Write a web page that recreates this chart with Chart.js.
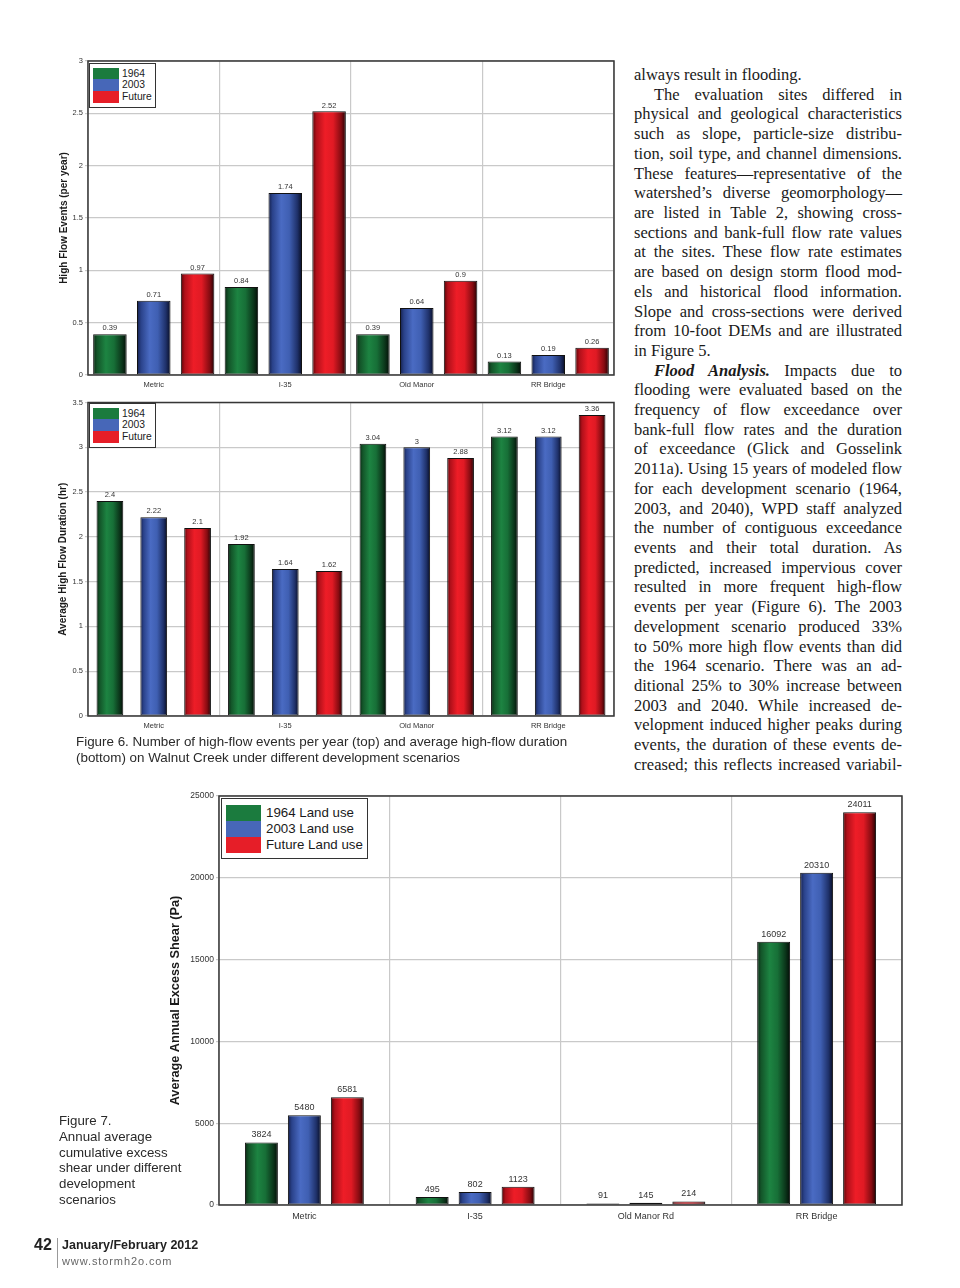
<!DOCTYPE html>
<html><head><meta charset="utf-8">
<script src="https://cdn.jsdelivr.net/npm/chart.js@4.4.0/dist/chart.umd.min.js"></script>
<style>
html,body{margin:0;padding:0;background:#fff;}
body{width:960px;height:1288px;position:relative;overflow:hidden;font-family:"Liberation Sans",Arial,sans-serif;color:#222;}
canvas{position:absolute;}
.lg{position:absolute;background:#fff;border:1.5px solid #333;box-sizing:border-box;}
.lg .it{position:absolute;white-space:nowrap;}
.lg .sw{position:absolute;}
.col{position:absolute;left:634px;width:268px;font-family:"Liberation Serif","Times New Roman",serif;font-size:16.5px;color:#1a1a1a;}
.col div{position:absolute;left:0;width:268px;height:19.7px;line-height:19.7px;text-align:justify;text-align-last:justify;}
.col div.e{text-align-last:left;}
.col div.i{left:20px;width:248px;}
.cap{position:absolute;font-size:13.4px;color:#2a2a2a;white-space:nowrap;line-height:16px;}
</style></head>
<body>
<canvas id="c1" width="590" height="345" style="left:40px;top:50px"></canvas>
<canvas id="c2" width="590" height="340" style="left:40px;top:396px"></canvas>
<canvas id="c3" width="760" height="440" style="left:150px;top:785px"></canvas>

<div class="cap" style="left:76px;top:734px;">Figure 6. Number of high-flow events per year (top) and average high-flow duration<br>(bottom) on Walnut Creek under different development scenarios</div>

<div class="cap" style="left:59px;top:1113px;font-size:13.3px;line-height:15.8px;">Figure 7.<br>Annual average<br>cumulative excess<br>shear under different<br>development<br>scenarios</div>

<div style="position:absolute;left:34px;top:1236px;font-size:16px;font-weight:bold;color:#222;">42</div>
<div style="position:absolute;left:57px;top:1238px;width:1px;height:30px;background:#999;"></div>
<div style="position:absolute;left:62px;top:1238px;font-size:12.5px;font-weight:bold;color:#222;white-space:nowrap;">January/February 2012</div>
<div style="position:absolute;left:62px;top:1255px;font-size:11px;letter-spacing:0.9px;color:#666;white-space:nowrap;">www.stormh2o.com</div>

<div class="col" id="col"></div>

<script>
// ---------- data ----------
const fig6Sites = ["Metric", "I-35", "Old Manor", "RR Bridge"];
const fig7Sites = ["Metric", "I-35", "Old Manor Rd", "RR Bridge"];
const fig6Series = ["1964", "2003", "Future"];
const fig7Series = ["1964 Land use", "2003 Land use", "Future Land use"];

const events1964   = [0.39, 0.84, 0.39, 0.13];
const events2003   = [0.71, 1.74, 0.64, 0.19];
const eventsFuture = [0.97, 2.52, 0.9, 0.26];

const duration1964   = [2.4, 1.92, 3.04, 3.12];
const duration2003   = [2.22, 1.64, 3, 3.12];
const durationFuture = [2.1, 1.62, 2.88, 3.36];

const shear1964   = [3824, 495, 91, 16092];
const shear2003   = [5480, 802, 145, 20310];
const shearFuture = [6581, 1123, 214, 24011];

const eventsTicks   = [0, 0.5, 1, 1.5, 2, 2.5, 3];
const durationTicks = [0, 0.5, 1, 1.5, 2, 2.5, 3, 3.5];
const shearTicks    = [0, 5000, 10000, 15000, 20000, 25000];

// ---------- styles ----------
const flatColors = ["#1b7b3e", "#4767b8", "#e61e28"];
const gradStops = [
  [[0,"#0a2813"],[0.12,"#135529"],[0.38,"#1d8442"],[0.62,"#176f37"],[0.86,"#0b351a"],[1,"#030c06"]],
  [[0,"#141f4a"],[0.12,"#2a428a"],[0.38,"#4a6bc3"],[0.62,"#3f5fb2"],[0.86,"#1f316a"],[1,"#080d24"]],
  [[0,"#560508"],[0.12,"#b0101a"],[0.38,"#ee1d27"],[0.62,"#e01a24"],[0.86,"#850b11"],[1,"#220103"]]
];

const barStyler = {
  id: "barStyler",
  beforeDatasetsDraw(chart) {
    const ctx = chart.ctx;
    chart.data.datasets.forEach((ds, i) => {
      const meta = chart.getDatasetMeta(i);
      meta.data.forEach(el => {
        const g = ctx.createLinearGradient(el.x - el.width / 2, 0, el.x + el.width / 2, 0);
        gradStops[i].forEach(s => g.addColorStop(s[0], s[1]));
        el.options.backgroundColor = g;
      });
    });
  }
};
const frame = {
  id: "frame",
  afterDatasetsDraw(chart) {
    const {left, top, right, bottom} = chart.chartArea;
    const ctx = chart.ctx;
    ctx.save();
    ctx.strokeStyle = "#363636";
    ctx.lineWidth = 1.5;
    ctx.strokeRect(left, top, right - left, bottom - top);
    ctx.restore();
  }
};
const valueLabels = {
  id: "valueLabels",
  afterDatasetsDraw(chart, args, opts) {
    const ctx = chart.ctx;
    ctx.save();
    ctx.font = opts.size + "px 'Liberation Sans', Arial, sans-serif";
    ctx.fillStyle = "#333";
    ctx.textAlign = "center";
    ctx.textBaseline = "bottom";
    chart.data.datasets.forEach((ds, i) => {
      const meta = chart.getDatasetMeta(i);
      meta.data.forEach((el, j) => {
        ctx.fillText(String(ds.data[j]), el.x, el.y - opts.gap);
      });
    });
    ctx.restore();
  }
};

function makeChart(id, o) {
  const datasets = o.series.map((arr, i) => ({
    label: o.names[i],
    data: arr,
    backgroundColor: () => flatColors[i],
    borderColor: "#111",
    borderWidth: 1,
    borderSkipped: false,
    barPercentage: o.barPct,
    categoryPercentage: o.catPct
  }));
  new Chart(document.getElementById(id), {
    type: "bar",
    data: { labels: o.cats, datasets },
    options: {
      responsive: false,
      animation: false,
      events: [],
      layout: { padding: o.pad },
      plugins: {
        legend: { display: false },
        tooltip: { enabled: false },
        valueLabels: { size: o.valSize, gap: o.valGap }
      },
      scales: {
        x: {
          offset: true,
          grid: { offset: true, color: "#c9c9c9", lineWidth: 1.2, drawTicks: false },
          border: { display: false },
          ticks: { color: "#333", font: { size: o.xSize, family: "'Liberation Sans', Arial" }, padding: o.xPad, maxRotation: 0 },
          afterFit(s) { s.height = o.xH; }
        },
        y: {
          min: 0, max: o.ticks[o.ticks.length - 1],
          afterBuildTicks(s) { s.ticks = o.ticks.map(v => ({ value: v })); },
          grid: { color: "#c9c9c9", lineWidth: 1.2, tickLength: 3 },
          border: { display: false },
          ticks: { color: "#333", font: { size: o.ySize, family: "'Liberation Sans', Arial" }, padding: 2,
                   callback: v => String(v) },
          title: { display: true, text: o.title, color: "#1a1a1a",
                   font: { size: o.titleSize, weight: "bold", family: "'Liberation Sans', Arial" },
                   padding: { top: o.titlePad, bottom: 0 } },
          afterFit(s) { s.width = o.yW; }
        }
      }
    },
    plugins: [barStyler, frame, valueLabels]
  });
}

makeChart("c1", {
  cats: fig6Sites, names: fig6Series, series: [events1964, events2003, eventsFuture],
  ticks: eventsTicks, barPct: 0.765, catPct: 1.0,
  pad: { top: 11, right: 16, bottom: 0, left: 0 }, yW: 48, xH: 20,
  xSize: 7.5, xPad: 5, ySize: 7.5, valSize: 7.5, valGap: 2,
  title: "High Flow Events (per year)", titleSize: 10, titlePad: 18
});
makeChart("c2", {
  cats: fig6Sites, names: fig6Series, series: [duration1964, duration2003, durationFuture],
  ticks: durationTicks, barPct: 0.61, catPct: 1.0,
  pad: { top: 5, right: 16, bottom: 0, left: 0 }, yW: 48, xH: 20,
  xSize: 7.5, xPad: 5, ySize: 7.5, valSize: 7.5, valGap: 2,
  title: "Average High Flow Duration (hr)", titleSize: 10, titlePad: 17
});
makeChart("c3", {
  cats: fig7Sites, names: fig7Series, series: [shear1964, shear2003, shearFuture],
  ticks: shearTicks, barPct: 0.767, catPct: 0.755,
  pad: { top: 11, right: 8, bottom: 0, left: 0 }, yW: 69, xH: 20,
  xSize: 9, xPad: 6, ySize: 8.5, valSize: 9, valGap: 3,
  title: "Average Annual Excess Shear (Pa)", titleSize: 12.7, titlePad: 17.5
});

// ---------- legends ----------
function legend(names, box) {
  const d = document.createElement("div");
  d.className = "lg";
  d.style.cssText = `left:${box.x}px;top:${box.y}px;width:${box.w}px;height:${box.h}px;`;
  names.forEach((n, i) => {
    const sw = document.createElement("div");
    sw.className = "sw";
    sw.style.cssText = `left:${box.sx}px;top:${box.sy + i * box.rh}px;width:${box.sw}px;height:${box.rh}px;background:${flatColors[i]};`;
    d.appendChild(sw);
    const t = document.createElement("div");
    t.className = "it";
    t.textContent = n;
    t.style.cssText = `left:${box.tx}px;top:${box.sy + i * box.rh}px;height:${box.rh}px;line-height:${box.rh}px;font-size:${box.fs}px;color:#1a1a1a;`;
    d.appendChild(t);
  });
  document.body.appendChild(d);
}
legend(fig6Series, { x: 89, y: 63, w: 67, h: 45, sx: 2.5, sy: 3.5, sw: 26, rh: 11.7, tx: 32, fs: 10.3 });
legend(fig6Series, { x: 89, y: 403, w: 67, h: 45, sx: 2.5, sy: 3.5, sw: 26, rh: 11.7, tx: 32, fs: 10.3 });
legend(fig7Series, { x: 221, y: 798, w: 147, h: 61, sx: 3.5, sy: 5.5, sw: 35, rh: 16, tx: 44, fs: 13.3 });

// ---------- body text ----------
const lines = [
  ["always result in flooding.", "e"],
  ["The evaluation sites differed in", "i"],
  ["physical and geological characteristics", ""],
  ["such as slope, particle-size distribu-", ""],
  ["tion, soil type, and channel dimensions.", ""],
  ["These features\u2014representative of the", ""],
  ["watershed\u2019s diverse geomorphology\u2014", ""],
  ["are listed in Table 2, showing cross-", ""],
  ["sections and bank-full flow rate values", ""],
  ["at the sites. These flow rate estimates", ""],
  ["are based on design storm flood mod-", ""],
  ["els and historical flood information.", ""],
  ["Slope and cross-sections were derived", ""],
  ["from 10-foot DEMs and are illustrated", ""],
  ["in Figure 5.", "e"],
  ["<b><i>Flood Analysis.</i></b> Impacts due to", "i"],
  ["flooding were evaluated based on the", ""],
  ["frequency of flow exceedance over", ""],
  ["bank-full flow rates and the duration", ""],
  ["of exceedance (Glick and Gosselink", ""],
  ["2011a). Using 15 years of modeled flow", ""],
  ["for each development scenario (1964,", ""],
  ["2003, and 2040), WPD staff analyzed", ""],
  ["the number of contiguous exceedance", ""],
  ["events and their total duration. As", ""],
  ["predicted, increased impervious cover", ""],
  ["resulted in more frequent high-flow", ""],
  ["events per year (Figure 6). The 2003", ""],
  ["development scenario produced 33%", ""],
  ["to 50% more high flow events than did", ""],
  ["the 1964 scenario. There was an ad-", ""],
  ["ditional 25% to 30% increase between", ""],
  ["2003 and 2040. While increased de-", ""],
  ["velopment induced higher peaks during", ""],
  ["events, the duration of these events de-", ""],
  ["creased; this reflects increased variabil-", ""]
];
const col = document.getElementById("col");
lines.forEach((l, i) => {
  const d = document.createElement("div");
  d.className = l[1];
  d.innerHTML = l[0];
  d.style.top = (65 + i * 19.71) + "px";
  col.appendChild(d);
});
</script>
</body></html>
